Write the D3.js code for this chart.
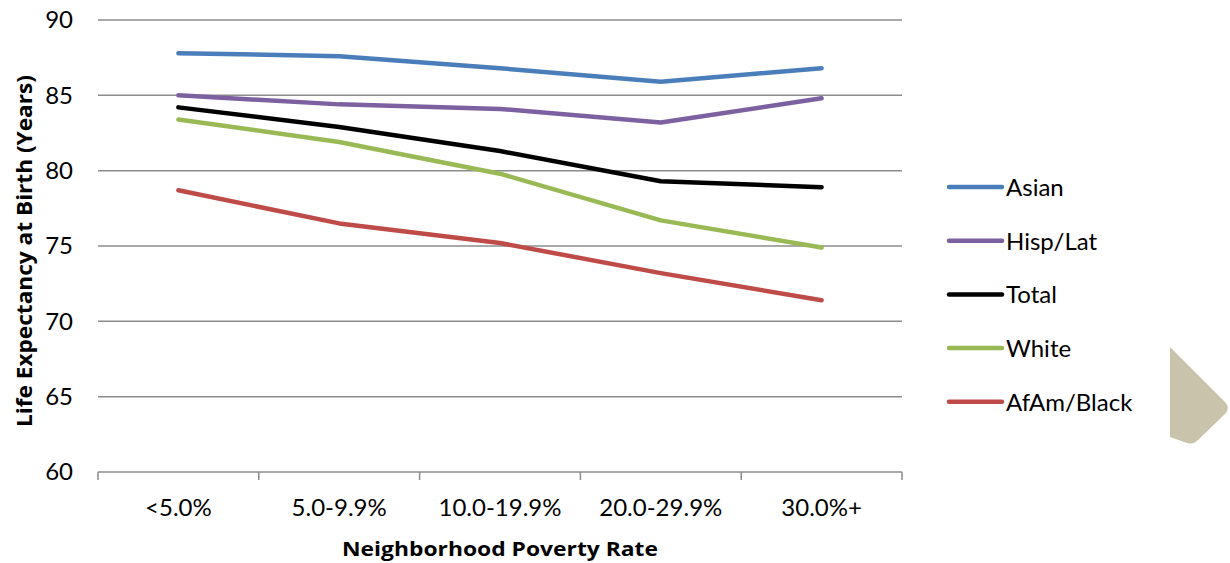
<!DOCTYPE html>
<html>
<head>
<meta charset="utf-8">
<script src="https://cdn.jsdelivr.net/npm/d3@7/dist/d3.min.js"></script>
<style>
  html, body { margin: 0; padding: 0; background: #fff; }
  svg text { font-family: Lato, "Open Sans", sans-serif; fill: #000; }
</style>
</head>
<body>
<svg id="chart" width="1230" height="563"></svg>
<script>
// Poverty-rate bands along the x axis
const categories = ["<5.0%", "5.0-9.9%", "10.0-19.9%", "20.0-29.9%", "30.0%+"];

// Life expectancy at birth (years) per group
const asian    = [87.8, 87.6, 86.8, 85.9, 86.8];
const hispLat  = [85.0, 84.4, 84.1, 83.2, 84.8];
const total    = [84.2, 82.9, 81.3, 79.3, 78.9];
const white    = [83.4, 81.9, 79.8, 76.7, 74.9];
const afamBlk  = [78.7, 76.5, 75.2, 73.2, 71.4];

const seriesNames  = ["Asian", "Hisp/Lat", "Total", "White", "AfAm/Black"];
const seriesValues = [asian, hispLat, total, white, afamBlk];
const seriesColors = ["#4A7EBB", "#7D60A0", "#000000", "#98B954", "#BE4B48"];

const yTicks = [60, 65, 70, 75, 80, 85, 90];

const svg = d3.select("#chart");
const plot = { left: 98, right: 902, top: 20, bottom: 472 };

const x = d3.scaleBand().domain(categories).range([plot.left, plot.right]);
const y = d3.scaleLinear().domain([60, 90]).range([plot.bottom, plot.top]);

// Horizontal gridlines
svg.append("g")
  .selectAll("line")
  .data(yTicks.filter(t => t > 60))
  .join("line")
  .attr("x1", plot.left).attr("x2", plot.right)
  .attr("y1", d => y(d)).attr("y2", d => y(d))
  .attr("stroke", "#8c8c8c").attr("stroke-width", 1.5);

// Y axis labels
const yAxis = svg.append("g")
  .attr("transform", `translate(${plot.left},0)`)
  .call(d3.axisLeft(y).tickValues(yTicks).tickSize(0).tickPadding(25));
yAxis.select(".domain").remove();
yAxis.selectAll("text")
  .style("font-size", "24px")
  .style("font-family", "Lato, 'Open Sans', sans-serif");

// X axis with tick marks between categories
const xAxisG = svg.append("g").attr("transform", `translate(0,${plot.bottom})`);
xAxisG.append("line")
  .attr("x1", plot.left).attr("x2", plot.right)
  .attr("stroke", "#8c8c8c").attr("stroke-width", 1.5);
const boundaries = categories.map(c => x(c)).concat([x(categories[categories.length - 1]) + x.bandwidth()]);
xAxisG.selectAll("line.tick")
  .data(boundaries)
  .join("line")
  .attr("class", "tick")
  .attr("x1", d => d).attr("x2", d => d)
  .attr("y1", 0).attr("y2", 8)
  .attr("stroke", "#8c8c8c").attr("stroke-width", 1.5);
xAxisG.selectAll("text")
  .data(categories)
  .join("text")
  .attr("x", d => x(d) + x.bandwidth() / 2)
  .attr("y", 44)
  .attr("text-anchor", "middle")
  .style("font-size", "24px")
  .text(d => d);

// Axis titles
svg.append("text")
  .attr("x", (plot.left + plot.right) / 2)
  .attr("y", 556)
  .attr("text-anchor", "middle")
  .attr("textLength", 316)
  .attr("lengthAdjust", "spacingAndGlyphs")
  .style("font-family", "'Open Sans', Lato, sans-serif")
  .style("font-size", "20px")
  .style("font-weight", "bold")
  .text("Neighborhood Poverty Rate");

svg.append("text")
  .attr("transform", `translate(32,251) rotate(-90)`)
  .attr("text-anchor", "middle")
  .attr("textLength", 352)
  .attr("lengthAdjust", "spacingAndGlyphs")
  .style("font-family", "'Open Sans', Lato, sans-serif")
  .style("font-size", "21px")
  .style("font-weight", "bold")
  .text("Life Expectancy at Birth (Years)");

// Series lines
const line = d3.line()
  .x((d, i) => x(categories[i]) + x.bandwidth() / 2)
  .y(d => y(d));

svg.append("g")
  .selectAll("path")
  .data(seriesValues)
  .join("path")
  .attr("d", d => line(d))
  .attr("fill", "none")
  .attr("stroke", (d, i) => seriesColors[i])
  .attr("stroke-width", 4.5)
  .attr("stroke-linecap", "round")
  .attr("stroke-linejoin", "round");

// Legend
const legend = svg.append("g").attr("transform", "translate(947,187)");
const rows = legend.selectAll("g")
  .data(seriesNames)
  .join("g")
  .attr("transform", (d, i) => `translate(0,${i * 53.7})`);
rows.append("line")
  .attr("x1", 2).attr("x2", 55)
  .attr("stroke", (d, i) => seriesColors[i])
  .attr("stroke-width", 4.5)
  .attr("stroke-linecap", "round");
rows.append("text")
  .attr("x", 59)
  .attr("y", 9)
  .style("font-size", "24px")
  .text(d => d);

// Decorative tab at the right edge
svg.append("path")
  .attr("d", "M1170,347 L1225,402 Q1230,407 1226,413 L1198,440 Q1193,445 1187,443 L1170,437 Z")
  .attr("fill", "#C9C3AB");
</script>
</body>
</html>
